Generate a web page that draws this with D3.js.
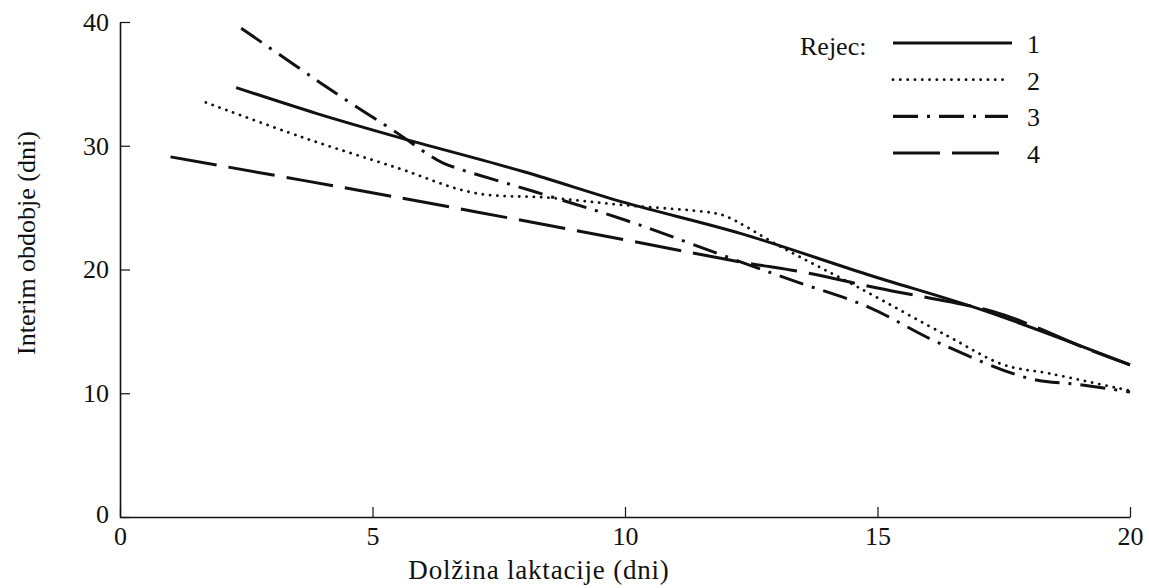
<!DOCTYPE html>
<html>
<head>
<meta charset="utf-8">
<script src="https://cdn.jsdelivr.net/npm/d3@7"></script>
<style>
  html, body { margin: 0; padding: 0; background: #fff; }
  svg text { font-family: "Liberation Serif", "Tinos", "Times New Roman", "DejaVu Serif", serif !important; fill: #111; }
</style>
</head>
<body>
<svg id="chart" width="1149" height="588"></svg>
<script>
// ---- data ----
const xTicks = [0, 5, 10, 15, 20];
const yTicks = [0, 10, 20, 30, 40];
const seriesNames = ["1", "2", "3", "4"];
const legendTitle = "Rejec:";
const xLabel = "Dolžina laktacije (dni)";
const yLabel = "Interim obdobje (dni)";

const rejec1 = [[2.3,34.7],[3.9,32.6],[5.5,30.7],[8,27.9],[10,25.4],[12.3,22.9],[14.8,19.6],[17.1,16.7],[20,12.3]];
const rejec2 = [[1.7,33.5],[3.6,30.7],[5.5,28.2],[7,26.2],[8.5,25.8],[10,25.2],[11.7,24.6],[12,24.3],[13.1,21.8],[14.6,18.6],[16.4,14.6],[17.5,12.3],[18.4,11.6],[20,10.2]];
const rejec3 = [[2.4,39.5],[3.5,36.4],[4.4,33.9],[5.5,31.0],[6.1,29.3],[6.4,28.6],[8.2,26.3],[10,24.0],[12.3,20.6],[13.4,19.0],[14.8,17.0],[16.2,14.1],[18,11.2],[19,10.7],[20,10.1]];
const rejec4 = [[1,29.1],[5.4,25.9],[10,22.4],[12.3,20.6],[13.5,19.8],[15,18.5],[17.3,16.6],[18.1,15.4],[19.2,13.5],[20,12.3]];

const seriesData = [rejec1, rejec2, rejec3, rejec4];
const dashes = [null, "0.1,7.2", "25,9,3,9", "47,12"];
const caps = ["butt", "round", "butt", "butt"];

// ---- layout ----
const svg = d3.select("#chart");
const x = d3.scaleLinear().domain([0, 20]).range([120, 1130]);
const y = d3.scaleLinear().domain([0, 40]).range([517, 22]);

const fs = 26;

// axes
const gx = svg.append("g").attr("transform", `translate(0,${y(0)})`)
  .call(d3.axisBottom(x).tickValues(xTicks).tickSizeInner(-10).tickSizeOuter(0).tickPadding(10));
const gy = svg.append("g").attr("transform", `translate(${x(0)},0)`)
  .call(d3.axisLeft(y).tickValues(yTicks).tickSizeInner(-10).tickSizeOuter(0).tickPadding(11));

[gx, gy].forEach(g => {
  g.attr("font-family", null);
  g.select(".domain").attr("stroke", "#111").attr("stroke-width", 1.6);
  g.selectAll(".tick line").attr("stroke", "#111").attr("stroke-width", 1.2);
  g.selectAll(".tick text").attr("font-size", fs).attr("fill", "#111");
});
gy.selectAll(".tick text").filter(d => d === 0).attr("dy", "0.2em");

// lines
const line = d3.line().x(d => x(d[0])).y(d => y(d[1])).curve(d3.curveCatmullRom.alpha(0.5));
seriesData.forEach((s, i) => {
  svg.append("path")
    .datum(s)
    .attr("d", line)
    .attr("fill", "none")
    .attr("stroke", "#111")
    .attr("stroke-width", i === 1 ? 2.8 : 3)
    .attr("stroke-linecap", caps[i])
    .attr("stroke-dasharray", dashes[i]);
});

// axis titles
svg.append("text")
  .attr("x", 539).attr("y", 579)
  .attr("text-anchor", "middle")
  .attr("font-size", 27)
  .attr("letter-spacing", 0.8)
  .text(xLabel);
svg.append("text")
  .attr("transform", `translate(35,243) rotate(-90)`)
  .attr("text-anchor", "middle")
  .attr("font-size", fs)
  .text(yLabel);

// legend
svg.append("text").attr("x", 800).attr("y", 55).attr("font-size", fs).text(legendTitle);
const legY = d3.scalePoint().domain(seriesNames).range([43, 153]);
seriesNames.forEach((name, i) => {
  const ly = legY(name);
  const x2 = i === 3 ? 1001 : (i === 1 ? 1009 : (i === 2 ? 1008 : 1012));
  svg.append("line")
    .attr("x1", 893).attr("x2", x2)
    .attr("y1", ly).attr("y2", ly)
    .attr("stroke", "#111")
    .attr("stroke-width", i === 1 ? 2.8 : 3.2)
    .attr("stroke-linecap", caps[i])
    .attr("stroke-dasharray", dashes[i]);
  svg.append("text")
    .attr("x", 1027).attr("y", ly + 10)
    .attr("font-size", fs)
    .text(name);
});
</script>
</body>
</html>
